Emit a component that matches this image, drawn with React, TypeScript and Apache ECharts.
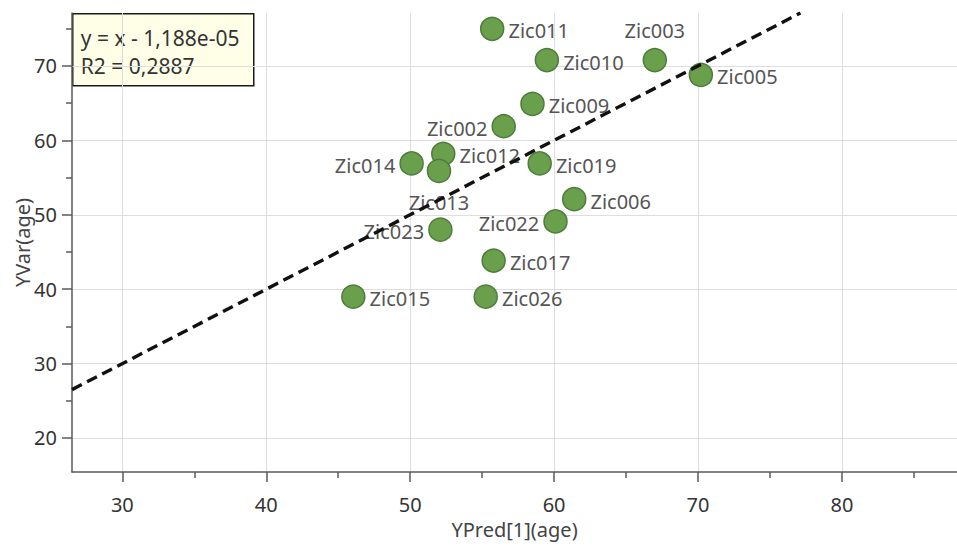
import React, { useEffect, useRef } from "react";
import * as echarts from "echarts";

// ---- data ----
const sampleNames = ["Zic011", "Zic010", "Zic003", "Zic005", "Zic009", "Zic002", "Zic014", "Zic012", "Zic013", "Zic019", "Zic006", "Zic022", "Zic023", "Zic017", "Zic015", "Zic026"];
const predictedAge = [55.7, 59.5, 67.0, 70.2, 58.5, 56.5, 50.1, 52.3, 52.0, 59.0, 61.4, 60.1, 52.1, 55.8, 46.05, 55.25];
const observedAge = [75.0, 70.8, 70.8, 68.8, 64.9, 61.9, 56.9, 58.2, 55.9, 56.9, 52.1, 49.1, 48.0, 43.85, 39.0, 39.0];
const xMajorTicks = [30, 40, 50, 60, 70, 80];
const xMinorTicks = [35, 45, 55, 65, 75, 85];
const yMajorTicks = [20, 30, 40, 50, 60, 70];
const yMinorTicks = [25, 35, 45, 55, 65, 75];
const xExtent = [26.5, 88];
const yExtent = [15.43, 77.12];
const fitSlope = 1;
const fitIntercept = -1.188e-5;
const equationLines = ["y = x - 1,188e-05", "R2 = 0,2887"];

// label placement per sample (layout, not data)
const labelSide: Record<string, string> = {
  Zic003: "top",
  Zic002: "left",
  Zic014: "left",
  Zic022: "left",
  Zic023: "left",
  Zic013: "bottom",
};

const FONT = "'Noto Sans', 'Open Sans', sans-serif";

export default function App() {
  const ref = useRef<HTMLDivElement>(null);
  useEffect(() => {
    if (!ref.current) return;
    const chart = echarts.init(ref.current, undefined, { renderer: "svg" });

    const points = sampleNames.map((n, i) => {
      const side = labelSide[n] || "right";
      return {
        name: n,
        value: [predictedAge[i], observedAge[i]],
        label: {
          position: side,
          distance: side === "top" ? 7 : side === "bottom" ? 9 : 4,
          offset: side === "left" || side === "right" ? [0, 2] : [0, 0],
        },
      };
    });

    const x0 = xExtent[0];
    const x1 = (yExtent[1] - fitIntercept) / fitSlope;
    const fitLine = [
      [x0, fitSlope * x0 + fitIntercept],
      [x1, fitSlope * x1 + fitIntercept],
    ];

    const axisColor = "#5a5a5a";
    const gridColor = "#dedede";

    chart.setOption({
      animation: false,
      backgroundColor: "#ffffff",
      grid: { left: 72, right: 0, top: 13, bottom: 75, containLabel: false, outerBoundsMode: "none" },
      xAxis: [
        {
          type: "value",
          min: xExtent[0],
          max: xExtent[1],
          position: "bottom",
          name: "YPred[1](age)",
          nameLocation: "middle",
          nameGap: 47,
          nameMoveOverlap: false,
          nameTextStyle: { fontSize: 20, color: "#444", fontFamily: FONT },
          axisLine: { show: true, lineStyle: { color: axisColor, width: 1.5 } },
          axisTick: { show: true, length: 10, customValues: xMajorTicks, lineStyle: { color: axisColor, width: 1.5 } },
          axisLabel: { customValues: xMajorTicks, margin: 22, fontSize: 20, color: "#333", fontFamily: FONT },
          splitLine: { show: true, lineStyle: { color: gridColor, width: 1 } },
        },
        {
          type: "value",
          min: xExtent[0],
          max: xExtent[1],
          position: "bottom",
          offset: 0,
          axisLine: { show: false },
          axisTick: { show: true, length: 6, customValues: xMinorTicks, lineStyle: { color: axisColor, width: 1.5 } },
          axisLabel: { show: false },
          splitLine: { show: false },
        },
      ],
      yAxis: [
        {
          type: "value",
          min: yExtent[0],
          max: yExtent[1],
          position: "left",
          name: "YVar(age)",
          nameLocation: "middle",
          nameGap: 40,
          nameMoveOverlap: false,
          nameRotate: 90,
          nameTextStyle: { fontSize: 20, color: "#444", fontFamily: FONT },
          axisLine: { show: true, lineStyle: { color: axisColor, width: 1.5 } },
          axisTick: { show: true, length: 10, customValues: yMajorTicks, lineStyle: { color: axisColor, width: 1.5 } },
          axisLabel: { customValues: yMajorTicks, margin: 15, fontSize: 20, color: "#333", fontFamily: FONT },
          splitLine: { show: true, lineStyle: { color: gridColor, width: 1 } },
        },
        {
          type: "value",
          min: yExtent[0],
          max: yExtent[1],
          position: "left",
          offset: 0,
          axisLine: { show: false },
          axisTick: { show: true, length: 6, customValues: yMinorTicks, lineStyle: { color: axisColor, width: 1.5 } },
          axisLabel: { show: false },
          splitLine: { show: false },
        },
      ],
      series: [
        {
          type: "scatter",
          xAxisIndex: 0,
          yAxisIndex: 0,
          data: points,
          symbol: "circle",
          symbolSize: 23,
          z: 3,
          itemStyle: { color: "#6a9f4c", borderColor: "#4e7c3b", borderWidth: 1.5, opacity: 1 },
          label: { show: true, formatter: "{b}", fontSize: 20, color: "#555", fontFamily: FONT },
          emphasis: { disabled: true },
        },
        {
          type: "line",
          xAxisIndex: 0,
          yAxisIndex: 0,
          data: fitLine,
          symbol: "none",
          z: 5,
          lineStyle: { color: "#111", width: 3.4, type: [11, 6] },
          emphasis: { disabled: true },
        },
      ],
      graphic: [
        {
          type: "group",
          left: 72,
          top: 13,
          z: 10,
          children: [
            {
              type: "rect",
              shape: { x: 0, y: 0, width: 181, height: 72 },
              style: { fill: "#ffffe8", stroke: "#1a1a1a", lineWidth: 1.5 },
            },
            {
              type: "text",
              x: 8,
              y: 10,
              style: {
                text: equationLines.join("\n"),
                fontSize: 21,
                lineHeight: 28,
                fill: "#333",
                fontFamily: FONT,
              },
            },
          ],
        },
      ],
    });
    return () => chart.dispose();
  }, []);

  return <div ref={ref} style={{ position: "absolute", left: 0, top: 0, width: 957, height: 547 }} />;
}
